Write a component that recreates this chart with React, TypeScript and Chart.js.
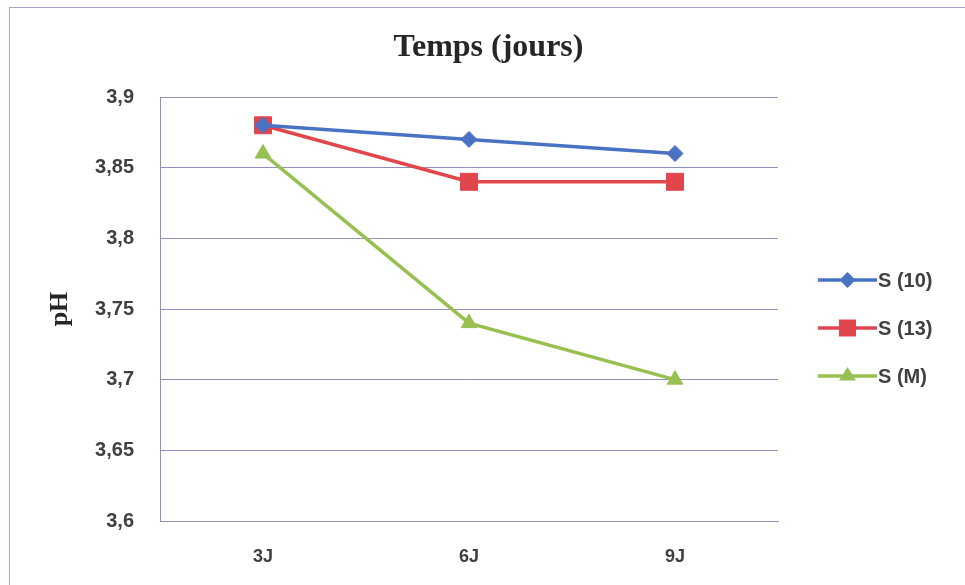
import React, { useEffect, useRef } from "react";
import { Chart, registerables } from "chart.js";

Chart.register(...registerables);

const categories = ["3J", "6J", "9J"];
const s10 = [3.88, 3.87, 3.86];
const s13 = [3.88, 3.84, 3.84];
const sM = [3.86, 3.74, 3.7];
const seriesNames = ["S (10)", "S (13)", "S (M)"];
const seriesColors = ["#4a72c2", "#e2464d", "#98c050"];
const seriesMarkers = ["rectRot", "rect", "triangle"];
const chartTitle = "Temps (jours)";
const yTitle = "pH";
const yMin = 3.6;
const yMax = 3.9;
const yStep = 0.05;

const GRID = "#8e91ba";
const TEXT = "#404040";

function drawMarker(ctx: CanvasRenderingContext2D, style: string, x: number, y: number, r: number) {
  ctx.beginPath();
  if (style === "rectRot") {
    ctx.moveTo(x, y - r);
    ctx.lineTo(x + r, y);
    ctx.lineTo(x, y + r);
    ctx.lineTo(x - r, y);
  } else if (style === "rect") {
    const s = r * Math.SQRT1_2;
    ctx.rect(x - s, y - s, 2 * s, 2 * s);
  } else {
    const h = r * 1.5;
    ctx.moveTo(x, y - r);
    ctx.lineTo(x + r * 0.95, y + h - r);
    ctx.lineTo(x - r * 0.95, y + h - r);
  }
  ctx.closePath();
  ctx.fill();
}

const extras = {
  id: "extras",
  beforeDraw(chart: any) {
    const ctx = chart.ctx as CanvasRenderingContext2D;
    ctx.save();
    ctx.fillStyle = "#ffffff";
    ctx.fillRect(0, 0, chart.width, chart.height);
    ctx.strokeStyle = "#a3a6c9";
    ctx.lineWidth = 1;
    ctx.strokeRect(9.5, 7.5, chart.width + 10, chart.height + 10);
    ctx.restore();
  },
  afterDraw(chart: any) {
    const ctx = chart.ctx as CanvasRenderingContext2D;
    const area = chart.chartArea;

    // chart title
    ctx.save();
    ctx.fillStyle = "#262626";
    ctx.font = "bold 32px 'Liberation Serif'";
    ctx.textAlign = "center";
    ctx.textBaseline = "alphabetic";
    ctx.fillText(chartTitle, chart.width / 2 + 6, 56);
    ctx.restore();

    // y-axis title
    ctx.save();
    ctx.fillStyle = "#262626";
    ctx.font = "bold 26px 'Liberation Serif'";
    ctx.textAlign = "center";
    ctx.textBaseline = "middle";
    ctx.translate(60, (area.top + area.bottom) / 2);
    ctx.rotate(-Math.PI / 2);
    ctx.fillText(yTitle, 0, 0);
    ctx.restore();

    // legend
    ctx.save();
    const cy = (area.top + area.bottom) / 2 + 19;
    const gap = 48;
    const x0 = area.right + 40;
    const x1 = x0 + 59;
    chart.data.datasets.forEach((ds: any, i: number) => {
      const y = cy + (i - 1) * gap;
      ctx.strokeStyle = ds.borderColor;
      ctx.lineWidth = 3.5;
      ctx.beginPath();
      ctx.moveTo(x0, y);
      ctx.lineTo(x1, y);
      ctx.stroke();
      ctx.fillStyle = ds.backgroundColor;
      drawMarker(ctx, ds.pointStyle, (x0 + x1) / 2, y, ds.pointRadius);
      ctx.fillStyle = TEXT;
      ctx.font = "bold 20px 'Liberation Sans'";
      ctx.textAlign = "left";
      ctx.textBaseline = "middle";
      ctx.fillText(ds.label, x1 + 1, y + 1);
    });
    ctx.restore();
  },
};

export default function App() {
  const ref = useRef<HTMLCanvasElement | null>(null);
  useEffect(() => {
    document.body.style.margin = "0";
    const values = [s10, s13, sM];
    const chart = new Chart(ref.current as HTMLCanvasElement, {
      type: "line",
      data: {
        labels: categories,
        datasets: values.map((v, i) => ({
          label: seriesNames[i],
          data: v,
          borderColor: seriesColors[i],
          backgroundColor: seriesColors[i],
          borderWidth: 3.5,
          pointStyle: seriesMarkers[i],
          pointRadius: seriesMarkers[i] === "rect" ? 12 : seriesMarkers[i] === "rectRot" ? 8 : 9,
          pointBorderWidth: 1,
          tension: 0,
        })),
      },
      options: {
        responsive: false,
        animation: false,
        layout: { padding: { left: 0, right: 187, top: 97, bottom: 17 } },
        plugins: {
          legend: { display: false },
          tooltip: { enabled: false },
          title: { display: false },
        },
        scales: {
          x: {
            offset: true,
            afterFit: (s: any) => {
              s.height = 47;
            },
            grid: { display: false, drawTicks: false },
            border: { display: true, color: GRID, width: 1 },
            ticks: {
              color: TEXT,
              padding: 25,
              font: { family: "'Liberation Sans'", size: 18, weight: "bold" },
            },
          },
          y: {
            min: yMin,
            max: yMax,
            afterFit: (s: any) => {
              s.width = 160;
            },
            grid: { color: GRID, lineWidth: 1, drawTicks: false },
            border: { display: true, color: GRID, width: 1 },
            ticks: {
              stepSize: yStep,
              color: TEXT,
              padding: 26,
              font: { family: "'Liberation Sans'", size: 20, weight: "bold" },
              callback: (v: any) => Number(Number(v).toFixed(2)).toString().replace(".", ","),
            },
          },
        },
      },
      plugins: [extras],
    });
    return () => chart.destroy();
  }, []);
  return (
    <div style={{ width: 965, height: 585 }}>
      <canvas ref={ref} width={965} height={585} />
    </div>
  );
}
